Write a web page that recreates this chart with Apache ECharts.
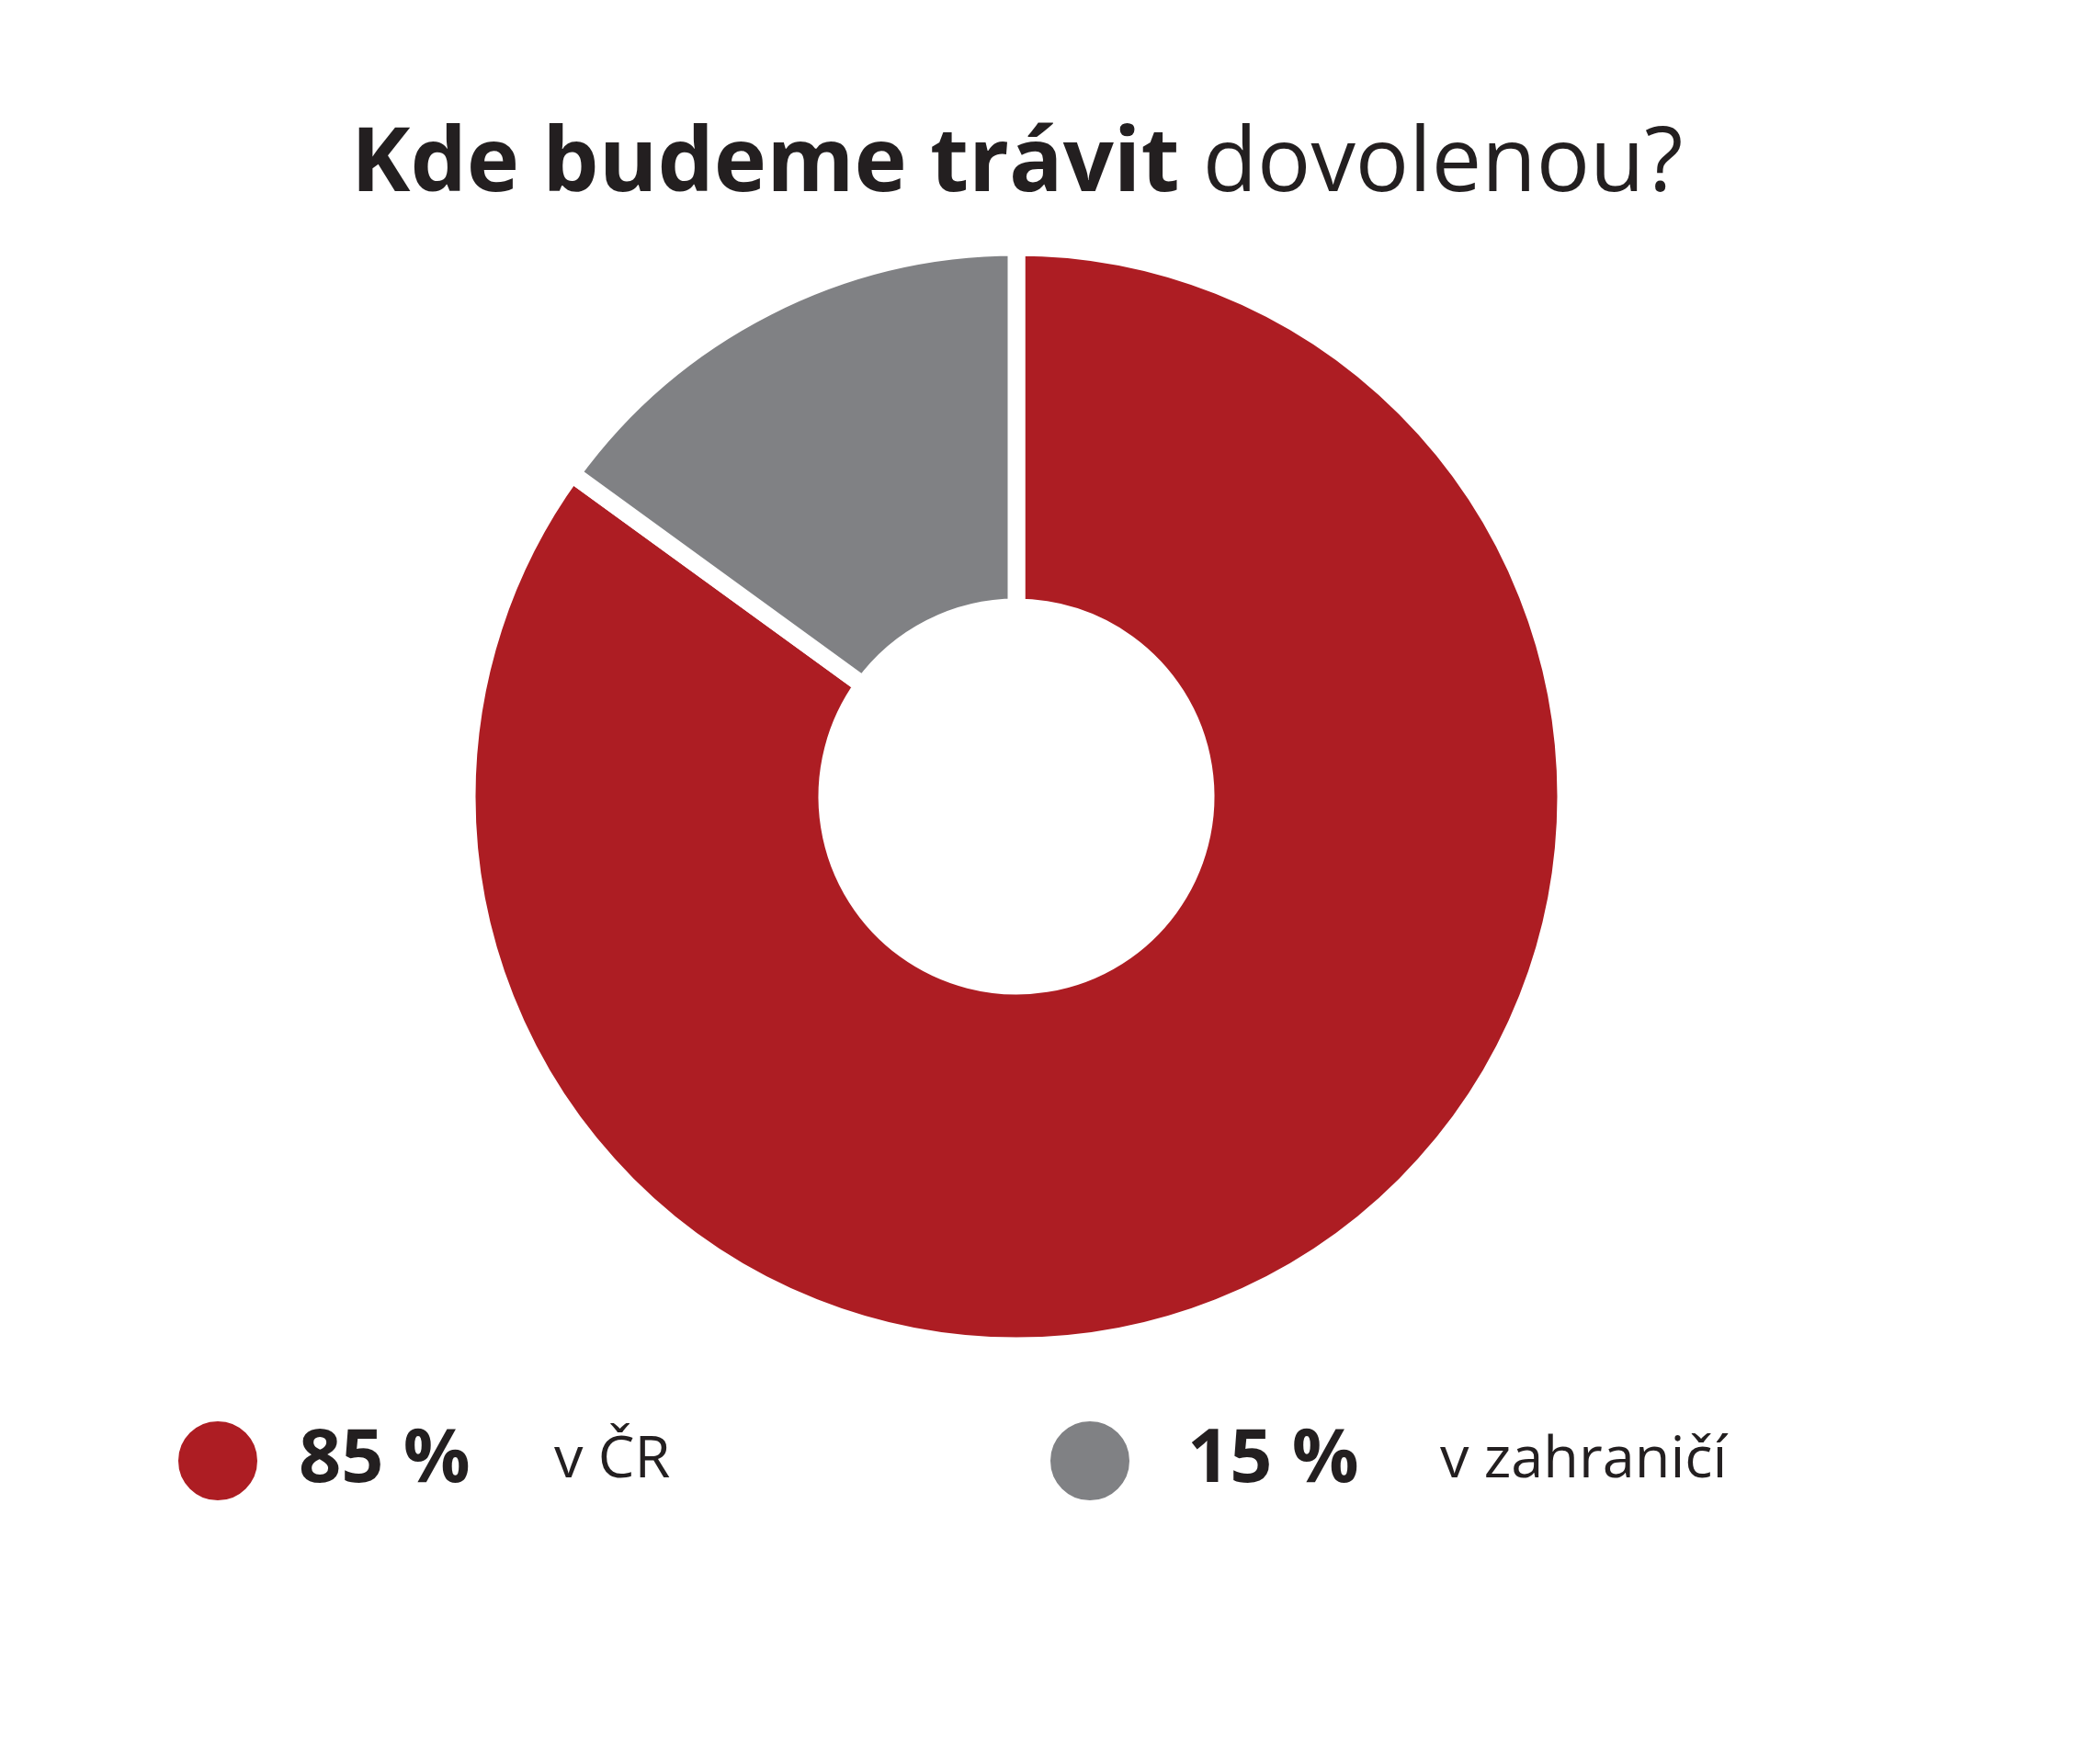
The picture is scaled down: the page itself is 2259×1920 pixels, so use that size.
<!DOCTYPE html>
<html>
<head>
<meta charset="utf-8">
<script src="https://cdn.jsdelivr.net/npm/echarts@6/dist/echarts.min.js"></script>
<style>
  html, body { margin: 0; padding: 0; background: #fff; }
  #main { width: 2259px; height: 1920px; }
</style>
</head>
<body>
<div id="main"></div>
<script>
const chart = echarts.init(document.getElementById('main'));

const places = ['v ČR', 'v zahraničí'];
const shares = [85, 15];
const colors = ['#ad1d23', '#808184'];

const font = 'Open Sans';

chart.setOption({
  backgroundColor: '#fff',
  title: {
    text: '{b|Kde budeme trávit}{r| dovolenou?}',
    left: 382,
    top: 120,
    padding: 0,
    textStyle: {
      rich: {
        b: { fontFamily: font, fontWeight: 'bold', fontSize: 97, color: '#231f20', lineHeight: 120 },
        r: { fontFamily: font, fontWeight: 'normal', fontSize: 97, color: '#231f20', lineHeight: 120 }
      }
    }
  },
  legend: {
    left: 192,
    top: 1545,
    padding: 0,
    icon: 'circle',
    itemWidth: 88,
    itemHeight: 88,
    itemGap: 138,
    selectedMode: false,
    data: places,
    formatter: function (name) {
      const i = places.indexOf(name);
      return '{p' + i + '|' + shares[i] + ' %}{n|' + name + '}';
    },
    textStyle: {
      rich: {
        p0: { fontFamily: font, fontWeight: 'bold', fontSize: 81, color: '#231f20', width: 278, padding: [0, 0, 0, 39], lineHeight: 88 },
        p1: { fontFamily: font, fontWeight: 'bold', fontSize: 81, color: '#231f20', width: 275, padding: [0, 0, 0, 57], lineHeight: 88 },
        n: { fontFamily: font, fontWeight: 'normal', fontSize: 63, color: '#231f20', width: 400, lineHeight: 88 }
      }
    }
  },
  series: [{
    type: 'pie',
    center: [1106, 867],
    radius: [206, 598],
    startAngle: 90,
    clockwise: true,
    silent: true,
    label: { show: false },
    labelLine: { show: false },
    itemStyle: {
      borderColor: '#fff',
      borderWidth: 19
    },
    data: places.map((p, i) => ({
      name: p,
      value: shares[i],
      itemStyle: { color: colors[i] }
    }))
  }]
});
</script>
</body>
</html>
